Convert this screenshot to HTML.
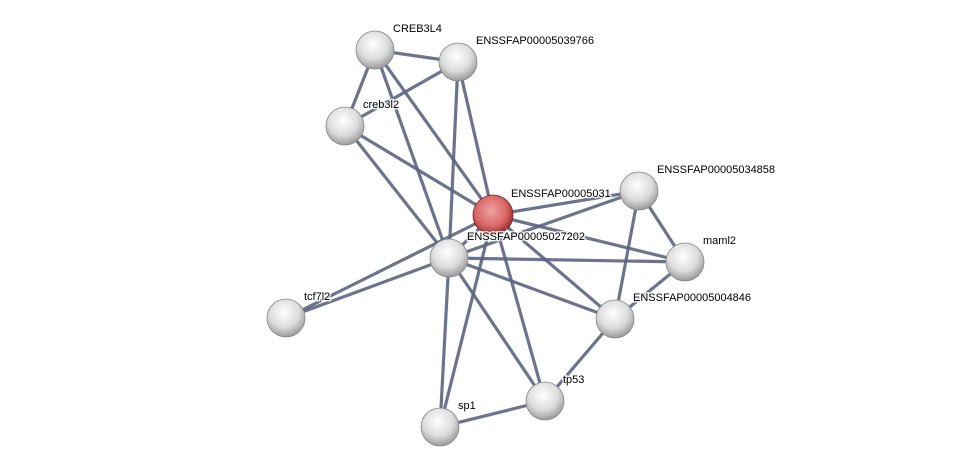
<!DOCTYPE html>
<html><head><meta charset="utf-8"><style>
html,body{margin:0;padding:0;background:#fff;}
svg{display:block;}
text{font-family:"Liberation Sans",sans-serif;font-size:11px;fill:#000;stroke:#fff;stroke-width:3px;stroke-opacity:0.8;paint-order:stroke;}
</style></head><body>
<svg width="975" height="472" viewBox="0 0 975 472" xmlns="http://www.w3.org/2000/svg">
<defs>
<radialGradient id="g" cx="0.45" cy="0.35" r="0.65">
<stop offset="0" stop-color="#ffffff"/><stop offset="0.6" stop-color="#dcdcdc"/><stop offset="1" stop-color="#9a9a9a"/>
</radialGradient>
<radialGradient id="r" cx="0.45" cy="0.4" r="0.65">
<stop offset="0" stop-color="#f0a0a0"/><stop offset="0.6" stop-color="#d86868"/><stop offset="1" stop-color="#8a2020"/>
</radialGradient>
</defs>
<g stroke="#5b6482" stroke-width="3.2" stroke-opacity="0.9">
<line x1="375" y1="50" x2="458" y2="62"/>
<line x1="375" y1="50" x2="345" y2="126"/>
<line x1="375" y1="50" x2="493" y2="215"/>
<line x1="375" y1="50" x2="449" y2="258"/>
<line x1="458" y1="62" x2="345" y2="126"/>
<line x1="458" y1="62" x2="493" y2="215"/>
<line x1="458" y1="62" x2="449" y2="258"/>
<line x1="345" y1="126" x2="493" y2="215"/>
<line x1="345" y1="126" x2="449" y2="258"/>
<line x1="493" y1="215" x2="639" y2="191"/>
<line x1="493" y1="215" x2="685" y2="262"/>
<line x1="493" y1="215" x2="615" y2="319"/>
<line x1="493" y1="215" x2="545" y2="401"/>
<line x1="493" y1="215" x2="440" y2="427"/>
<line x1="493" y1="215" x2="286" y2="318"/>
<line x1="493" y1="215" x2="449" y2="258"/>
<line x1="449" y1="258" x2="639" y2="191"/>
<line x1="449" y1="258" x2="685" y2="262"/>
<line x1="449" y1="258" x2="615" y2="319"/>
<line x1="449" y1="258" x2="545" y2="401"/>
<line x1="449" y1="258" x2="440" y2="427"/>
<line x1="449" y1="258" x2="286" y2="318"/>
<line x1="639" y1="191" x2="685" y2="262"/>
<line x1="639" y1="191" x2="615" y2="319"/>
<line x1="685" y1="262" x2="615" y2="319"/>
<line x1="615" y1="319" x2="545" y2="401"/>
<line x1="545" y1="401" x2="440" y2="427"/>
</g>
<g stroke="#888" stroke-width="0.8">
<circle cx="375" cy="50" r="19" fill="url(#g)"/>
<circle cx="458" cy="62" r="19" fill="url(#g)"/>
<circle cx="345" cy="126" r="19" fill="url(#g)"/>
<circle cx="639" cy="191" r="19" fill="url(#g)"/>
<circle cx="449" cy="258" r="19" fill="url(#g)"/>
<circle cx="685" cy="262" r="19" fill="url(#g)"/>
<circle cx="286" cy="318" r="19" fill="url(#g)"/>
<circle cx="615" cy="319" r="19" fill="url(#g)"/>
<circle cx="545" cy="401" r="19" fill="url(#g)"/>
<circle cx="440" cy="427" r="19" fill="url(#g)"/>
<circle cx="493" cy="215" r="20" fill="url(#r)" stroke="#802020"/>
</g>
<g>
<text x="393" y="32">CREB3L4</text>
<text x="476" y="44">ENSSFAP00005039766</text>
<text x="363" y="108">creb3l2</text>
<text x="511" y="197">ENSSFAP00005031</text>
<text x="657" y="173">ENSSFAP00005034858</text>
<text x="467" y="240">ENSSFAP00005027202</text>
<text x="703" y="244">maml2</text>
<text x="304" y="300">tcf7l2</text>
<text x="633" y="301">ENSSFAP00005004846</text>
<text x="563" y="383">tp53</text>
<text x="458" y="409">sp1</text>
</g>
</svg>
</body></html>
